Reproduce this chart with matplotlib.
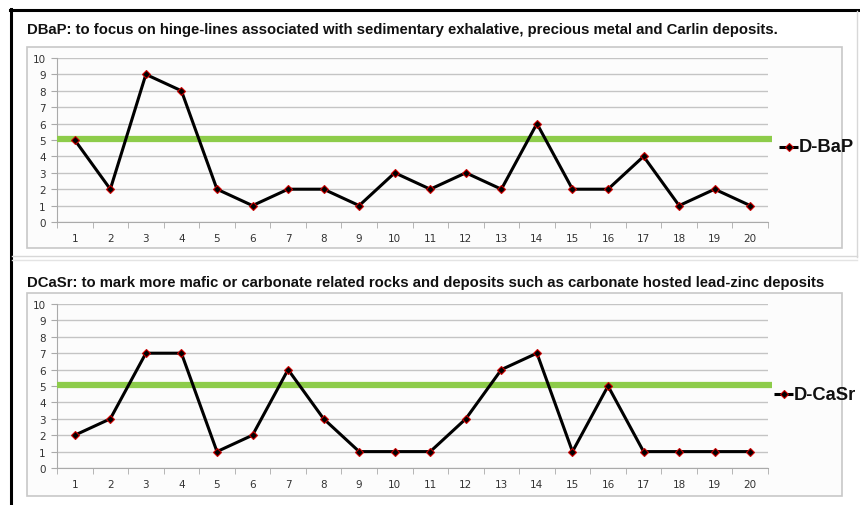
import matplotlib
matplotlib.use("Agg")
import matplotlib.pyplot as plt
from matplotlib.patches import Rectangle
from matplotlib.lines import Line2D

categories = [str(i) for i in range(1, 21)]
dbap = [5, 2, 9, 8, 2, 1, 2, 2, 1, 3, 2, 3, 2, 6, 2, 2, 4, 1, 2, 1]
dcasr = [2, 3, 7, 7, 1, 2, 6, 3, 1, 1, 1, 3, 6, 7, 1, 5, 1, 1, 1, 1]
threshold = 5.05
titles = ["DBaP: to focus on hinge-lines associated with sedimentary exhalative, precious metal and Carlin deposits.",
          "DCaSr: to mark more mafic or carbonate related rocks and deposits such as carbonate hosted lead-zinc deposits"]
labels = ["D-BaP", "D-CaSr"]
yticks = list(range(0, 11))

W, H = 860, 506
fig = plt.figure(figsize=(W / 100, H / 100), dpi=100)
fig.patch.set_facecolor("white")

def fx(x): return x / W
def fy(y): return 1 - y / H

# outer frame lines
fig.add_artist(Line2D([fx(11), fx(11)], [fy(10), fy(506)], color="black", lw=2.2))
fig.add_artist(Line2D([fx(10), fx(860)], [fy(11), fy(11)], color="black", lw=2.2))
fig.add_artist(Line2D([fx(857), fx(857)], [fy(12), fy(258)], color="#d8d8d8", lw=1))
fig.add_artist(Line2D([fx(12), fx(857)], [fy(257), fy(257)], color="#d8d8d8", lw=1))
fig.add_artist(Line2D([fx(12), fx(857)], [fy(261), fy(261)], color="#e4e4e4", lw=1))

panels = [
    dict(data=dbap, title=titles[0], label=labels[0], box=(27, 48, 842, 249), ax=(57, 59, 768, 223), ty=30, ly=148, lx=779),
    dict(data=dcasr, title=titles[1], label=labels[1], box=(27, 294, 842, 497), ax=(57, 305, 768, 469), ty=283, ly=395, lx=774),
]

for p in panels:
    x0, y0, x1, y1 = p["box"]
    fig.add_artist(Rectangle((fx(x0), fy(y1)), fx(x1 - x0), (y1 - y0) / H,
                             facecolor="#fcfcfc", edgecolor="#c8c8c8", lw=1.2,
                             transform=fig.transFigure, zorder=0))
    fig.text(fx(27), fy(p["ty"]), p["title"], fontsize=10.7, fontweight="bold",
             family="Liberation Sans", va="center", ha="left", color="#111111")
    ax0, ay0, ax1, ay1 = p["ax"]
    ax = fig.add_axes([fx(ax0), fy(ay1), fx(ax1 - ax0), (ay1 - ay0) / H])
    ax.set_facecolor("none")
    xs = list(range(len(categories)))
    ax.plot(xs, p["data"], color="black", lw=2.2, marker="D", markersize=4.2,
            markerfacecolor="black", markeredgecolor="#cc0000", markeredgewidth=0.8, zorder=4)
    ax.plot([-0.5, 19.6], [threshold, threshold], color="#8dcc4a", lw=4.5, zorder=3,
            clip_on=False, solid_capstyle="butt")
    ax.set_xlim(-0.5, 19.5)
    ax.set_ylim(0, 10)
    ax.set_yticks(yticks)
    ax.set_yticklabels([str(v) for v in yticks])
    ax.yaxis.grid(True, color="#c4c4c4", lw=1)
    ax.set_axisbelow(True)
    ax.set_xticks(xs)
    ax.set_xticklabels(categories)
    ax.set_xticks([i - 0.5 for i in range(21)], minor=True)
    ax.tick_params(axis="x", which="major", length=0, pad=8, labelsize=7.5, labelcolor="#333333")
    ax.tick_params(axis="x", which="minor", length=4, color="#aaaaaa", direction="out")
    ax.tick_params(axis="y", length=4, color="#aaaaaa", labelsize=7.5, labelcolor="#333333", pad=4)
    for s in ["top", "right"]:
        ax.spines[s].set_visible(False)
    ax.spines["left"].set_color("#aaaaaa")
    ax.spines["bottom"].set_color("#aaaaaa")
    # legend
    ly = p["ly"]
    lx = p["lx"]
    fig.add_artist(Line2D([fx(lx), fx(lx + 19)], [fy(ly), fy(ly)], color="black", lw=2.2,
                          solid_capstyle="butt"))
    fig.add_artist(Line2D([fx(lx + 9.5)], [fy(ly)], color="black", marker="D", markersize=4,
                          markerfacecolor="black", markeredgecolor="#cc0000", markeredgewidth=0.8))
    fig.text(fx(lx + 20), fy(ly), p["label"], fontsize=13.2, family="Liberation Sans",
             va="center", ha="left", color="#111111", fontweight="bold")

fig.savefig("out.png", dpi=100, facecolor="white")
